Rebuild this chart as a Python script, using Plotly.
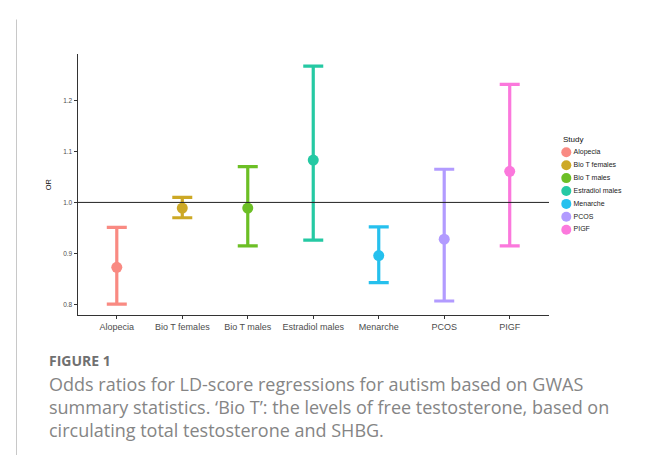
import plotly.graph_objects as go

studies = ["Alopecia", "Bio T females", "Bio T males", "Estradiol males", "Menarche", "PCOS", "PIGF"]
odds_ratio = [0.873, 0.989, 0.989, 1.083, 0.896, 0.928, 1.061]
ci_lower = [0.801, 0.970, 0.915, 0.926, 0.843, 0.807, 0.915]
ci_upper = [0.951, 1.010, 1.070, 1.267, 0.952, 1.065, 1.231]
colors = ["#F8766D", "#C49A00", "#53B400", "#00C094", "#00B6EB", "#A58AFF", "#FB61D7"]
y_ticks = [0.8, 0.9, 1.0, 1.1, 1.2]
caption_lines = [
    "Odds ratios for LD-score regressions for autism based on GWAS",
    "summary statistics. ‘Bio T’: the levels of free testosterone, based on",
    "circulating total testosterone and SHBG.",
]

W, H = 646, 455
def fx(px):
    return px / W
def fy(py):
    return (H - py) / H

fig = go.Figure()
for s, o, lo, hi, c in zip(studies, odds_ratio, ci_lower, ci_upper, colors):
    fig.add_trace(go.Scatter(
        x=[s], y=[o], mode="markers",
        marker=dict(size=11, color=c),
        error_y=dict(type="data", symmetric=False, array=[hi - o], arrayminus=[o - lo],
                     thickness=3.2, width=10, color=c),
        opacity=0.85,
        showlegend=False, xaxis="x", yaxis="y",
    ))

# legend drawn as a small scatter on its own axes
fig.add_trace(go.Scatter(
    x=[0] * len(studies), y=studies, mode="markers+text",
    text=studies, textposition="middle right",
    textfont=dict(size=7, color="#222", family="Liberation Sans, Arial, sans-serif"),
    marker=dict(size=10, color=colors, opacity=0.85),
    showlegend=False, xaxis="x2", yaxis="y2", hoverinfo="skip", cliponaxis=False,
))

fig.add_hline(y=1.0, line=dict(color="#222", width=1), xref="x", yref="y")

annotations = [
    dict(text="Study", x=fx(553), y=fy(131), xref="paper", yref="paper",
         xanchor="left", yanchor="middle", showarrow=False,
         font=dict(size=8, color="#111")),
    dict(text="<b>FIGURE 1</b>", x=fx(39), y=fy(352), xref="paper", yref="paper",
         xanchor="left", yanchor="middle", showarrow=False,
         font=dict(size=14, color="#707070", family="Open Sans, sans-serif")),
]
for i, line in enumerate(caption_lines):
    annotations.append(dict(
        text=line, x=fx(39), y=fy(376 + 23 * i), xref="paper", yref="paper",
        xanchor="left", yanchor="middle", showarrow=False,
        font=dict(size=18, color="#858585", family="Open Sans, sans-serif")))

fig.update_layout(
    width=W, height=H,
    margin=dict(l=0, r=0, t=0, b=0),
    paper_bgcolor="white", plot_bgcolor="white",
    font=dict(family="Liberation Sans, Arial, sans-serif"),
    xaxis=dict(
        domain=[fx(69.5), fx(541)], type="category", categoryorder="array", categoryarray=studies,
        range=[-0.6, 6.6], showline=True, linecolor="#333", linewidth=1,
        ticks="outside", ticklen=3, tickcolor="#333", showgrid=False, zeroline=False,
        tickfont=dict(size=9, color="#4d4d4d"), anchor="y",
    ),
    yaxis=dict(
        domain=[fy(307.3), fy(46)], range=[0.779, 1.2906],
        tickvals=y_ticks, ticktext=[f"{v:.1f}" for v in y_ticks],
        showline=True, linecolor="#333", linewidth=1,
        ticks="outside", ticklen=3, tickcolor="#333", showgrid=False, zeroline=False,
        tickfont=dict(size=6.5, color="#4d4d4d"), anchor="x",
        title=dict(text="OR", font=dict(size=7.5, color="#111"), standoff=10),
    ),
    xaxis2=dict(domain=[fx(554), fx(644)], range=[-0.05, 1], visible=False, anchor="y2"),
    yaxis2=dict(domain=[fy(228.15), fy(137.85)], type="category", categoryorder="array",
                categoryarray=studies, range=[6.5, -0.5], visible=False, anchor="x2"),
    annotations=annotations,
    shapes=[
        dict(type="line", xref="paper", yref="paper", x0=fx(8), x1=1, y0=fy(11.5), y1=fy(11.5),
             line=dict(color="#c8c8c8", width=1)),
        dict(type="line", xref="paper", yref="paper", x0=fx(8.5), x1=fx(8.5), y0=0, y1=fy(11.5),
             line=dict(color="#c8c8c8", width=1)),
    ],
)

fig.write_html("out.html")
